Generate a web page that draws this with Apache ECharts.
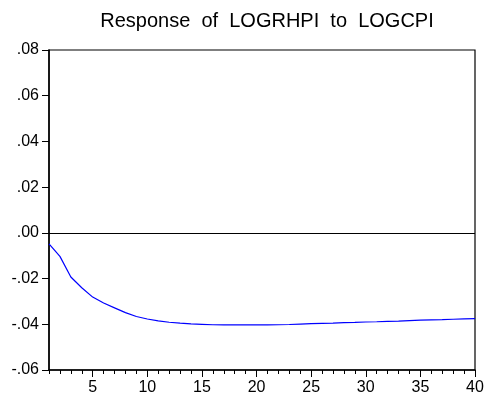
<!DOCTYPE html>
<html>
<head>
<meta charset="utf-8">
<script src="https://cdn.jsdelivr.net/npm/echarts@6/dist/echarts.min.js"></script>
<style>html,body{margin:0;padding:0;background:#fff;}#c{width:487px;height:403px;}</style>
</head>
<body>
<div id="c"></div>
<script>
const periods = Array.from({length: 40}, (_, i) => String(i + 1));
const response = [-0.0048, -0.0103, -0.0193, -0.0240, -0.0281, -0.0307, -0.0328, -0.0349, -0.0366, -0.0377,
  -0.0385, -0.0391, -0.0395, -0.0398, -0.0400, -0.0402, -0.0403, -0.0403, -0.0403, -0.0403,
  -0.0403, -0.0402, -0.0401, -0.0399, -0.0397, -0.0396, -0.0395, -0.0393, -0.0392, -0.0390,
  -0.0389, -0.0387, -0.0386, -0.0384, -0.0382, -0.0381, -0.0380, -0.0378, -0.0376, -0.0375];
const yTicks = [-0.06, -0.04, -0.02, 0, 0.02, 0.04, 0.06, 0.08];

const chart = echarts.init(document.getElementById('c'));
const fmt = v => {
  let s = Math.abs(v).toFixed(2).replace(/^0/, '');
  return (v < -1e-9 ? '-' : '') + s;
};
const font = 'Liberation Sans, Arial';
chart.setOption({
  animation: false,
  backgroundColor: '#fff',
  title: {
    text: 'Response  of  LOGRHPI  to  LOGCPI',
    left: 262, top: 6, textAlign: 'center',
    textStyle: {fontFamily: font, fontSize: 20, fontWeight: 'normal', color: '#000'}
  },
  grid: {left: 49, right: 12, top: 50, bottom: 33, show: true, borderColor: '#000', borderWidth: 1.2, backgroundColor: '#fff'},
  xAxis: [{
    type: 'category', data: periods, boundaryGap: false,
    axisLine: {onZero: false, lineStyle: {color: '#000', width: 1.5}},
    axisTick: {interval: 0, length: 4, lineStyle: {color: '#000'}},
    axisLabel: {
      interval: (i, v) => (+v) % 5 === 0,
      color: '#000', fontFamily: font, fontSize: 16, margin: 10
    },
    splitLine: {show: false}
  }, {
    type: 'category', data: periods, boundaryGap: false, position: 'bottom',
    axisLine: {show: false, onZero: false},
    axisTick: {interval: (i, v) => (+v) % 5 === 0, length: 7, lineStyle: {color: '#000'}},
    axisLabel: {show: false},
    splitLine: {show: false}
  }],
  yAxis: {
    type: 'value', min: yTicks[0], max: yTicks[yTicks.length - 1], interval: 0.02,
    axisLine: {show: true, lineStyle: {color: '#000', width: 1.5}},
    axisTick: {show: true, length: 7, lineStyle: {color: '#000'}},
    axisLabel: {formatter: fmt, color: '#000', fontFamily: font, fontSize: 16, margin: 10},
    splitLine: {show: false}
  },
  series: [{
    type: 'line', data: response, symbol: 'none', smooth: false,
    lineStyle: {color: '#0000ff', width: 1.2},
    markLine: {
      silent: true, symbol: 'none', label: {show: false},
      lineStyle: {color: '#000', width: 1, type: 'solid'},
      data: [{yAxis: 0}]
    }
  }]
});
</script>
</body>
</html>
